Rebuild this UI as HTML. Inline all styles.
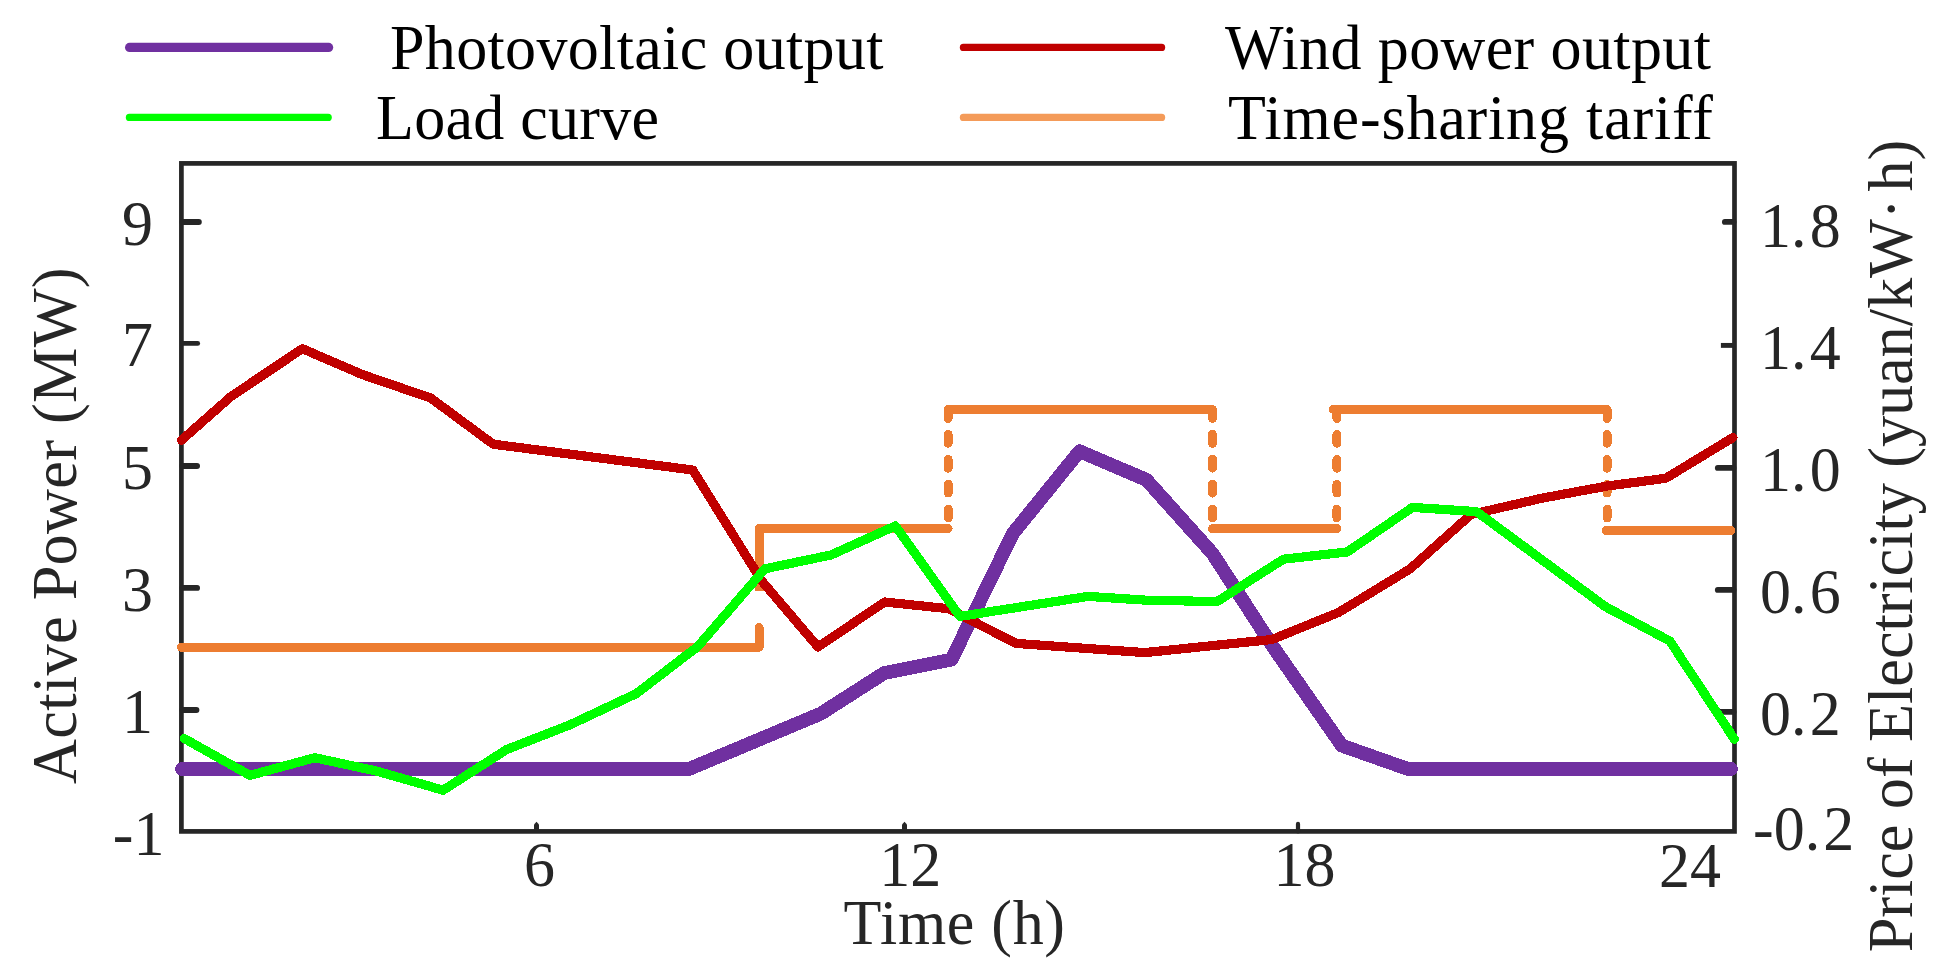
<!DOCTYPE html>
<html lang="en"><head><meta charset="utf-8"><title>Active power and electricity price curves</title>
<style>html,body{margin:0;padding:0;background:#fff;}body{width:1949px;height:977px;overflow:hidden;}svg{display:block;}text{font-family:"Liberation Serif", "Noto Serif CJK SC", serif;font-size:62px;}</style></head><body>
<svg width="1949" height="977" viewBox="0 0 1949 977">
<rect x="0" y="0" width="1949" height="977" fill="#ffffff"/>
<g stroke-linecap="round" fill="none">
<line x1="129.6" y1="47.4" x2="328.6" y2="47.4" stroke="#7030A0" stroke-width="9.2"/>
<line x1="129.4" y1="117.4" x2="328.2" y2="117.4" stroke="#00FF00" stroke-width="7.2"/>
<line x1="963.4" y1="47.4" x2="1161.6" y2="47.4" stroke="#C00000" stroke-width="7.2"/>
<line x1="963.4" y1="117.4" x2="1161.6" y2="117.4" stroke="#F49B59" stroke-width="7.2"/>
</g>
<g fill="#000000">
<text transform="translate(390,68.5) scale(1,1.012)" textLength="493.5" lengthAdjust="spacing">Photovoltaic output</text>
<text transform="translate(376,139.0) scale(1,1.012)" textLength="283" lengthAdjust="spacing">Load curve</text>
<text transform="translate(1225,68.5) scale(1,1.012)" textLength="486" lengthAdjust="spacing">Wind power output</text>
<text transform="translate(1228,139.0) scale(1,1.012)" textLength="485" lengthAdjust="spacing">Time-sharing tariff</text>
</g>
<g fill="none" stroke="#262626">
<rect x="181.4" y="163.4" width="1553.1" height="668.0" stroke-width="4.7"/>
<line x1="182.4" y1="221.9" x2="198.8" y2="221.9" stroke-width="6.0" stroke-linecap="round"/>
<line x1="182.4" y1="343.4" x2="197.7" y2="343.4" stroke-width="4.8" stroke-linecap="round"/>
<line x1="182.4" y1="465.9" x2="197.0" y2="465.9" stroke-width="6.0" stroke-linecap="round"/>
<line x1="182.4" y1="587.9" x2="197.1" y2="587.9" stroke-width="5.8" stroke-linecap="round"/>
<line x1="182.4" y1="710.0" x2="196.4" y2="710.0" stroke-width="6.0" stroke-linecap="round"/>
<line x1="1733.5" y1="221.9" x2="1724.9" y2="221.9" stroke-width="5.9" stroke-linecap="round"/>
<line x1="1733.5" y1="345.4" x2="1720.9" y2="345.4" stroke-width="4.9" stroke-linecap="butt"/>
<line x1="1733.5" y1="467.9" x2="1717.8" y2="467.9" stroke-width="5.8" stroke-linecap="round"/>
<line x1="1733.5" y1="589.9" x2="1717.8" y2="589.9" stroke-width="5.8" stroke-linecap="round"/>
<line x1="1733.5" y1="711.9" x2="1717.9" y2="711.9" stroke-width="5.9" stroke-linecap="round"/>
<path d="M534.0,831.4 L534.0,824.4 L536.5,821.7 L539.0,824.4 L539.0,831.4 Z" fill="#262626" stroke="none"/>
<path d="M902.0,831.4 L902.0,824.4 L904.5,821.7 L907.0,824.4 L907.0,831.4 Z" fill="#262626" stroke="none"/>
<line x1="1298" y1="831.4" x2="1298" y2="823.9" stroke-width="4.2" stroke-linecap="round"/>
</g>
<g fill="none" stroke-linejoin="round" stroke-linecap="round" shape-rendering="crispEdges">
<g stroke="#ED7D31" stroke-width="8.9">
<polyline points="181.5,647.3 759.1,647.3 759.1,627.5"/>
<polyline points="759.1,590.5 759.1,528.6 948.2,528.6" stroke-linecap="butt"/>
<line x1="948.2" y1="528.6" x2="945.2" y2="528.6"/>
<line x1="948.2" y1="409.5" x2="948.2" y2="528.6" stroke-dasharray="8.9 16.0"/>
<line x1="948.2" y1="409.5" x2="1212.5" y2="409.5"/>
<line x1="1212.5" y1="409.5" x2="1212.5" y2="528.6" stroke-dasharray="8.9 16.0"/>
<line x1="1212.5" y1="528.6" x2="1336.9" y2="528.6"/>
<line x1="1336.9" y1="409.5" x2="1336.9" y2="528.6" stroke-dasharray="8.9 16.0"/>
<line x1="1333.4" y1="409.5" x2="1607.1" y2="409.5"/>
<line x1="1607.1" y1="409.5" x2="1607.1" y2="530.5" stroke-dasharray="8.9 16.0"/>
<line x1="1606.1" y1="530.5" x2="1731" y2="530.5"/>
</g>
<polyline points="182.0,769.0 688.9,769.0 820.7,713.7 884.3,673.0 951.5,659.6 1012.9,533.5 1079.5,451.2 1146.4,479.8 1212.5,553.5 1271.8,645.0 1341.8,745.6 1407.8,768.9 1731.0,768.9" stroke="#7030A0" stroke-width="13.8"/>
<polyline points="181.5,440.2 231.6,396.0 302.4,348.7 361.9,374.4 430.6,398.0 493.2,444.2 692.7,470.0 761.8,581.0 818.0,647.0 884.6,602.0 948.4,608.7 1016.0,643.4 1144.9,652.6 1272.0,639.5 1338.5,612.5 1410.2,568.8 1471.0,514.5 1541.8,498.2 1607.4,486.0 1665.7,478.3 1733.0,437.5" stroke="#C00000" stroke-width="9.2"/>
<polyline points="184.2,738.5 250.0,775.4 314.8,757.7 377.2,771.2 443.1,790.2 506.7,749.5 570.0,724.8 636.5,693.5 697.8,646.5 764.9,568.8 830.9,555.0 895.4,525.9 959.8,616.4 1088.1,596.4 1144.9,600.1 1217.0,601.6 1283.5,559.2 1347.3,551.9 1412.4,507.4 1476.5,511.6 1605.6,606.8 1669.8,641.0 1734.4,739.2" stroke="#00FF00" stroke-width="9.2"/>
</g>
<g fill="#262626">
<text transform="translate(153,244.5) scale(1,1.025)" text-anchor="end">9</text>
<text transform="translate(153,366.0) scale(1,1.025)" text-anchor="end">7</text>
<text transform="translate(153,488.5) scale(1,1.025)" text-anchor="end">5</text>
<text transform="translate(153,610.5) scale(1,1.025)" text-anchor="end">3</text>
<text transform="translate(153,732.6) scale(1,1.025)" text-anchor="end">1</text>
<text transform="translate(164.5,854.9) scale(1,1.025)" text-anchor="end">-1</text>
<text transform="translate(1760,246.9) scale(1,1.025)" dx="0 0 3.2">1.8</text>
<text transform="translate(1760,368.7) scale(1,1.025)" dx="0 0 3.2">1.4</text>
<text transform="translate(1760,490.8) scale(1,1.025)" dx="0 0 3.2">1.0</text>
<text transform="translate(1760,613) scale(1,1.025)" dx="0 0 3.2">0.6</text>
<text transform="translate(1760,735) scale(1,1.025)" dx="0 0 3.2">0.2</text>
<text transform="translate(1753,849.9) scale(1,1.025)" dx="0 0 0 3.2">-0.2</text>
<text transform="translate(539.5,885.5) scale(1,1.025)" text-anchor="middle">6</text>
<text transform="translate(910.3,885.5) scale(1,1.025)" text-anchor="middle">12</text>
<text transform="translate(1304.5,885.5) scale(1,1.025)" text-anchor="middle">18</text>
<text transform="translate(1690,887.3) scale(1,1.025)" text-anchor="middle">24</text>
<text transform="translate(843.6,943.8) scale(1,1.012)" textLength="221.4" lengthAdjust="spacing">Time (h)</text>
<text transform="translate(75.8,783.9) rotate(-90) scale(1,1.02)" textLength="516.5" lengthAdjust="spacing" style="font-size:62.3px">Active Power (MW)</text>
<text transform="translate(1912.3,952.3) rotate(-90) scale(1,1.02)" textLength="812.5" lengthAdjust="spacing" dx="0 0 0 0 0 0 0 0 0 0 0 0 0 0 0 0 0 0 0 0 0 0 0 0 0 0 0 0 0 0 7" style="font-size:62.3px">Price of Electricity (yuan/kW·h)</text>
</g>
</svg></body></html>
